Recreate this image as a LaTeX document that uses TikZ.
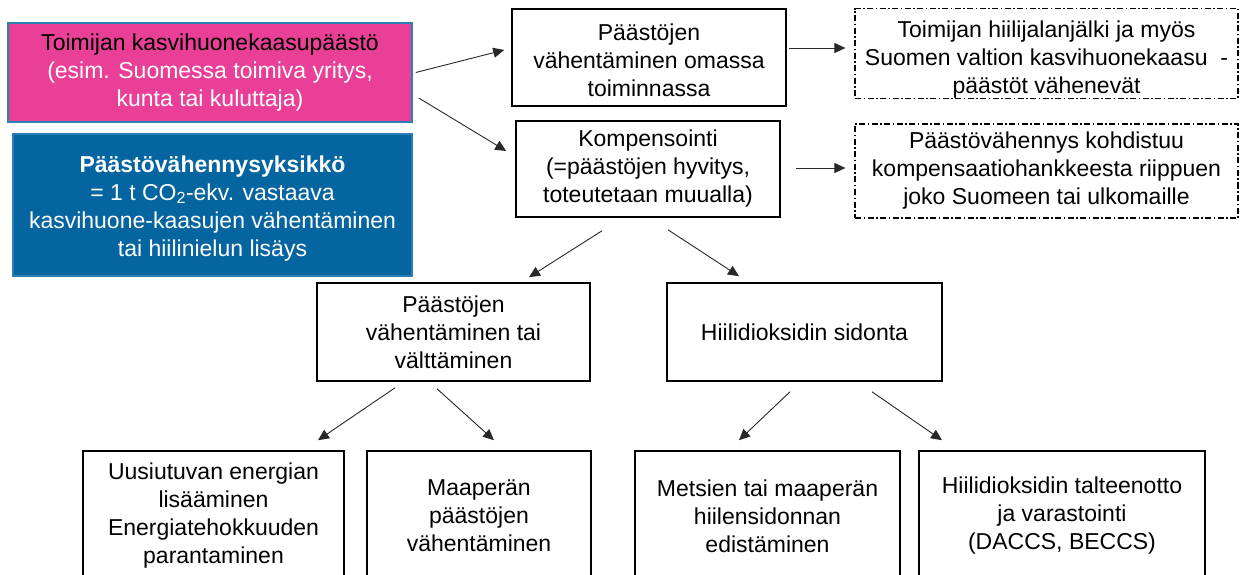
\documentclass[tikz,border=0pt]{standalone}
\usepackage{fontspec}
\setmainfont{Liberation Sans}
\usetikzlibrary{arrows.meta,calc}
\definecolor{pinkfill}{RGB}{234,63,150}
\definecolor{pinkline}{RGB}{40,130,180}
\definecolor{bluefill}{RGB}{5,101,161}
\definecolor{blueline}{RGB}{45,125,185}
\definecolor{arrowcol}{RGB}{40,40,40}
\tikzset{
  txt/.style={font=\fontsize{23}{28}\selectfont, align=center, inner sep=0pt},
  plainbox/.style={txt, draw=black, line width=1.6pt, fill=white},
  dashbox/.style={txt, draw=black, line width=1.2pt, dash pattern=on 6pt off 2.5pt on 1.5pt off 2.5pt},
  pinkbox/.style={txt, draw=pinkline, line width=1.5pt, fill=pinkfill},
  bluebox/.style={txt, draw=blueline, line width=1.5pt, fill=bluefill, text=white},
  arr/.style={draw=arrowcol, line width=0.9pt, -{Triangle[length=11pt,width=10pt]}}
}
\begin{document}
\begin{tikzpicture}[x=1pt,y=-1pt]
\useasboundingbox (0,0) rectangle (1240,575);
\clip (0,0) rectangle (1240,575);
\fill[white] (0,0) rectangle (1240,575);

\node[pinkbox, minimum width=404pt, minimum height=99pt] (pink) at (210,72.5)
  {Toimijan kasvihuonekaasupäästö\\ \textcolor{white}{(esim. Suomessa toimiva yritys,}\\ \textcolor{white}{kunta tai kuluttaja)}};
\node[bluebox, minimum width=399pt, minimum height=142pt] (blue) at (212.5,205)
  {\rule{0pt}{23pt}\textbf{Päästövähennysyksikkö}\\ = 1 t CO\textsubscript{2}-ekv. vastaava\\ kasvihuone-kaasujen vähentäminen\\ tai hiilinielun lisäys};

\node[plainbox, minimum width=274pt, minimum height=97pt] (own) at (649,57.5)
  {\rule{0pt}{22pt}Päästöjen\\ vähentäminen omassa\\ toiminnassa};
\node[plainbox, minimum width=264pt, minimum height=96pt] (komp) at (648,169)
  {Kompensointi\\ (=päästöjen hyvitys,\\ toteutetaan muualla)};

\node[dashbox, minimum width=383pt, minimum height=87pt] (d1) at (1046.5,53.5)
  {\rule{0pt}{29pt}Toimijan hiilijalanjälki ja myös\\ Suomen valtion kasvihuonekaasu~ -\\ päästöt vähenevät};
\node[dashbox, minimum width=383pt, minimum height=94pt] (d2) at (1046.5,171)
  {Päästövähennys kohdistuu\\ kompensaatiohankkeesta riippuen\\ joko Suomeen tai ulkomaille};

\node[plainbox, minimum width=273pt, minimum height=98pt] (mid1) at (453.5,332)
  {Päästöjen\\ vähentäminen tai\\ välttäminen};
\node[plainbox, minimum width=275pt, minimum height=98pt] (mid2) at (804.5,332)
  {Hiilidioksidin sidonta};

\node[plainbox, minimum width=261pt, minimum height=130pt] (b1) at (213.5,516)
  {Uusiutuvan energian\\ lisääminen\\ Energiatehokkuuden\\ parantaminen};
\node[plainbox, minimum width=224pt, minimum height=130pt] (b2) at (479,516)
  {Maaperän\\ päästöjen\\ vähentäminen};
\node[plainbox, minimum width=265pt, minimum height=130pt] (b3) at (767.5,516)
  {Metsien tai maaperän\\ hiilensidonnan\\ edistäminen};
\node[plainbox, minimum width=286pt, minimum height=130pt] (b4) at (1062,516)
  {Hiilidioksidin talteenotto\\ ja varastointi\\ (DACCS, BECCS)};

\draw[arr] ($(pink.east)+(3,0)$) -- ($(own.west)+(-7,-7.5)$);
\draw[arr] ($(pink.east)+(6,25.5)$) -- ($(komp.west)+(-9,-18)$);
\draw[arr] ($(own.east)+(2,-9.5)$) -- ($(d1.west)+(-9,-5.5)$);
\draw[arr] ($(komp.east)+(15,-1)$) -- ($(d2.west)+(-9,-3)$);
\draw[arr] ($(komp.south)+(-46,13)$) -- ($(mid1.north)+(75.5,-5)$);
\draw[arr] ($(komp.south)+(20,12)$) -- ($(mid2.north)+(-65.5,-6)$);
\draw[arr] ($(mid1.south)+(-58.5,6)$) -- ($(b1.north)+(104.5,-10)$);
\draw[arr] ($(mid1.south)+(-16.5,7)$) -- ($(b2.north)+(15,-10)$);
\draw[arr] ($(mid2.south)+(-14.5,10)$) -- ($(b3.north)+(-28.5,-10)$);
\draw[arr] ($(mid2.south)+(67.5,10)$) -- ($(b4.north)+(-120,-10)$);
\end{tikzpicture}
\end{document}
